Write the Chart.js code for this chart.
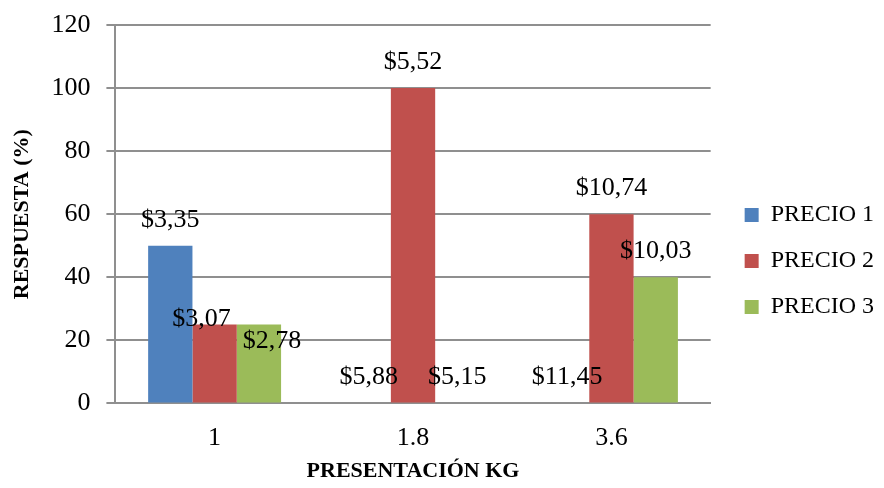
<!DOCTYPE html>
<html>
<head>
<meta charset="utf-8">
<script src="https://cdn.jsdelivr.net/npm/chart.js@4.4.1/dist/chart.umd.min.js"></script>
<style>
  html, body { margin: 0; padding: 0; background: #fff; }
  #wrap { width: 884px; height: 488px; }
</style>
</head>
<body>
<div id="wrap"><canvas id="presentacion_chart"></canvas></div>
<script>
// data
const categories = ['1', '1.8', '3.6'];
const seriesNames = ['PRECIO 1', 'PRECIO 2', 'PRECIO 3'];
const precio1 = [50, 0, 0];
const precio2 = [25, 100, 60];
const precio3 = [25, 0, 40];
const precio1Labels = ['$3,35', '$5,88', '$11,45'];
const precio2Labels = ['$3,07', '$5,52', '$10,74'];
const precio3Labels = ['$2,78', '$5,15', '$10,03'];
const yTicks = [0, 20, 40, 60, 80, 100, 120];

const colors = ['#4F81BD', '#C0504D', '#9BBB59'];
const serif = "'Liberation Serif', 'Times New Roman', serif";
const gridColor = '#8f8f8f';

// small nudges (px) where Excel moved a label to avoid overlap
const labelNudge = [
    [[0, 0], [0, 0], [0, 0]],
    [[-13, 21], [0, 0], [0, 0]],
    [[13, 43], [0, 0], [0, 0]]
];

const valueLabels = {
    id: 'valueLabels',
    afterDatasetsDraw(chart) {
        const ctx = chart.ctx;
        ctx.save();
        ctx.font = '26px ' + serif;
        ctx.fillStyle = '#000';
        ctx.textAlign = 'center';
        ctx.textBaseline = 'middle';
        chart.data.datasets.forEach((ds, i) => {
            const meta = chart.getDatasetMeta(i);
            meta.data.forEach((bar, j) => {
                const n = labelNudge[i][j];
                ctx.fillText(ds.priceLabels[j], bar.x + n[0], bar.y - 26 + n[1]);
            });
        });
        ctx.restore();
    }
};

const chartEl = document.getElementById('presentacion_chart');

new Chart(chartEl, {
    type: 'bar',
    data: {
        labels: categories,
        datasets: [
            { label: seriesNames[0], data: precio1, priceLabels: precio1Labels, backgroundColor: colors[0] },
            { label: seriesNames[1], data: precio2, priceLabels: precio2Labels, backgroundColor: colors[1] },
            { label: seriesNames[2], data: precio3, priceLabels: precio3Labels, backgroundColor: colors[2] }
        ]
    },
    options: {
        responsive: true,
        maintainAspectRatio: false,
        animation: false,
        devicePixelRatio: 1,
        datasets: {
            bar: { categoryPercentage: 0.67, barPercentage: 1.0, borderWidth: 0 }
        },
        layout: { padding: { top: 25, right: 0, bottom: 1, left: 9 } },
        plugins: {
            tooltip: { enabled: false },
            legend: {
                position: 'right',
                maxWidth: 220,
                title: { display: true, text: '', font: { size: 1 }, padding: 4.5 },
                labels: {
                    boxWidth: 14,
                    boxHeight: 14,
                    padding: 22,
                    color: '#000',
                    font: { family: serif, size: 24 }
                }
            }
        },
        scales: {
            x: {
                grid: { display: false, drawTicks: true, tickLength: 19 },
                border: { display: true, color: gridColor, width: 2 },
                ticks: { color: '#000', padding: 0, font: { family: serif, size: 26 } },
                title: {
                    display: true,
                    text: 'PRESENTACIÓN KG',
                    color: '#000',
                    font: { family: serif, size: 22, weight: 'bold' },
                    padding: { top: 5, bottom: 2 }
                }
            },
            y: {
                min: 0,
                max: 120,
                afterBuildTicks(scale) { scale.ticks = yTicks.map(v => ({ value: v })); },
                // 25px tick space, only the 9px next to the axis is drawn
                grid: {
                    color: gridColor,
                    lineWidth: 2,
                    tickLength: 25,
                    tickBorderDash: [9, 16],
                    tickBorderDashOffset: 9
                },
                border: { display: true, color: gridColor, width: 2 },
                ticks: { color: '#000', padding: 0, font: { family: serif, size: 26 } },
                title: {
                    display: true,
                    text: 'RESPUESTA (%)',
                    color: '#000',
                    font: { family: serif, size: 22, weight: 'bold' },
                    padding: { top: 0, bottom: 16 }
                }
            },
            yRightGap: {
                position: 'right',
                display: true,
                grid: { display: false },
                border: { display: false },
                ticks: { display: false },
                afterFit(scale) { scale.width = 12; }
            }
        }
    },
    plugins: [valueLabels]
});
</script>
</body>
</html>
